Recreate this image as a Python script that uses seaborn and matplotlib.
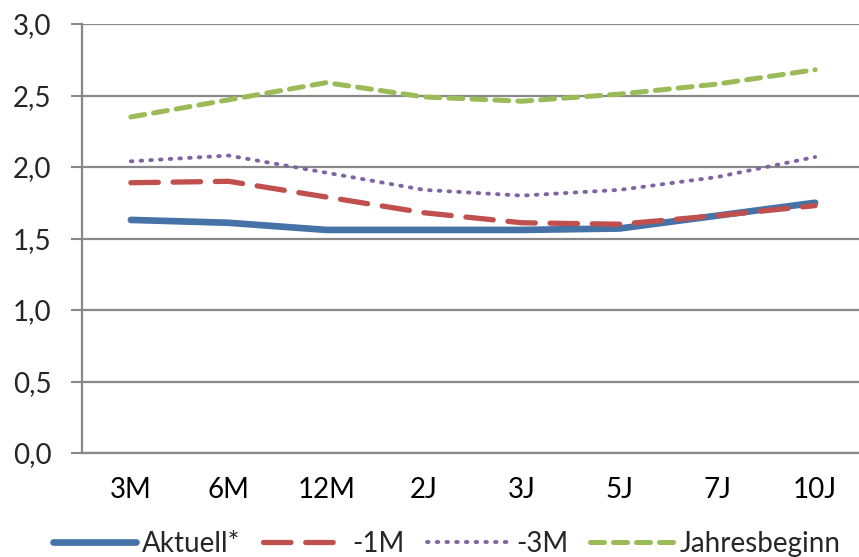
import matplotlib
matplotlib.use("Agg")
import matplotlib.pyplot as plt
from matplotlib.lines import Line2D
from matplotlib.ticker import FixedLocator, FuncFormatter
import seaborn as sns
import pandas as pd

categories = ["3M", "6M", "12M", "2J", "3J", "5J", "7J", "10J"]
aktuell = [1.63, 1.61, 1.56, 1.56, 1.56, 1.57, 1.66, 1.75]
minus_1m = [1.89, 1.90, 1.79, 1.68, 1.61, 1.60, 1.66, 1.73]
minus_3m = [2.04, 2.08, 1.96, 1.84, 1.80, 1.84, 1.93, 2.07]
jahresbeginn = [2.35, 2.47, 2.59, 2.49, 2.46, 2.51, 2.58, 2.68]

series = {
    "Aktuell*": aktuell,
    "-1M": minus_1m,
    "-3M": minus_3m,
    "Jahresbeginn": jahresbeginn,
}
styles = {
    "Aktuell*": dict(color="#4572A7", lw=4.8, ls="-"),
    "-1M": dict(color="#C0504D", lw=3.8, ls=(0, (5.2, 2.8))),
    "-3M": dict(color="#8064A2", lw=2.8, ls=(0, (0.4, 2.1))),
    "Jahresbeginn": dict(color="#9BBB59", lw=3.6, ls=(0, (2.8, 1.8))),
}

sns.set_style("white")
plt.rcParams["font.family"] = ["Lato", "DejaVu Sans"]

fig = plt.figure(figsize=(8.59, 5.57), dpi=100)
ax = fig.add_axes([82 / 859, 104 / 557, 782 / 859, 429 / 557])

handles = []
for name, vals in series.items():
    df = pd.DataFrame({"x": range(len(categories)), "y": vals})
    st = styles[name]
    sns.lineplot(data=df, x="x", y="y", ax=ax, color=st["color"], linewidth=st["lw"],
                 linestyle=st["ls"], legend=False, sort=False)
    ax.lines[-1].set_dash_capstyle("round")
    ax.lines[-1].set_solid_capstyle("round")
    ax.lines[-1].set_solid_joinstyle("round")
    h = Line2D([], [], color=st["color"], linewidth=st["lw"], linestyle=st["ls"],
               dash_capstyle="round", solid_capstyle="round")
    handles.append(h)

ax.set_xlim(-0.5, len(categories) - 0.5)
ax.set_ylim(0, 3.0)
ax.set_xlabel("")
ax.set_ylabel("")

ax.set_xticks(range(len(categories)))
ax.set_xticklabels(categories)
ax.xaxis.set_minor_locator(FixedLocator([i - 0.5 for i in range(len(categories) + 1)]))
ax.tick_params(axis="x", which="major", length=0, pad=17, labelsize=20, colors="black")
ax.tick_params(axis="x", which="minor", length=8, width=1.5, color="#888888", direction="out")

ax.set_yticks([0, 0.5, 1.0, 1.5, 2.0, 2.5, 3.0])
ax.yaxis.set_major_formatter(FuncFormatter(lambda v, p: f"{v:.1f}".replace(".", ",")))
ax.tick_params(axis="y", length=8, width=1.5, color="#888888", direction="out",
               pad=14, labelsize=20, left=True)

ax.grid(axis="y", color="#888888", linewidth=1.6)
ax.set_axisbelow(True)
for s in ["top", "right"]:
    ax.spines[s].set_visible(False)
for s in ["left", "bottom"]:
    ax.spines[s].set_color("#888888")
    ax.spines[s].set_linewidth(1.6)

fig.legend(handles, list(series.keys()), loc="center", bbox_to_anchor=(0.52, 1 - 544 / 557),
           ncol=4, frameon=False, fontsize=20, handlelength=3.0, handletextpad=0.22,
           columnspacing=0.8, borderpad=0)

fig.savefig("out.png", dpi=100)
